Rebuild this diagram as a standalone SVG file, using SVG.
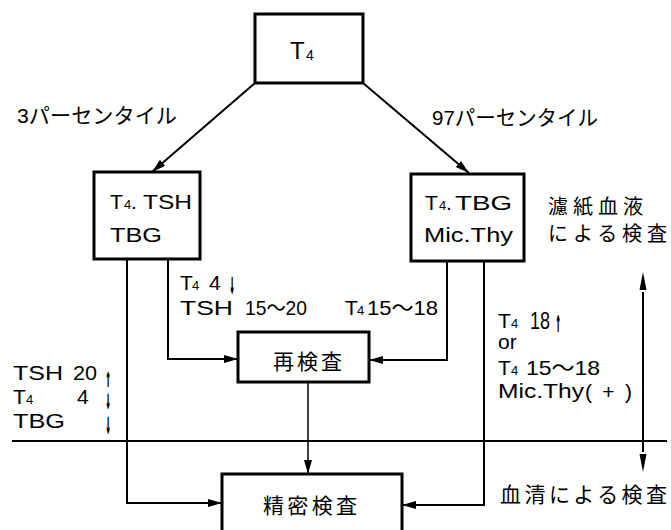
<svg xmlns="http://www.w3.org/2000/svg" width="671" height="530" viewBox="0 0 671 530">
<style>
  .box { fill: #fff; stroke: #000; stroke-width: 3; }
  .con { fill: none; stroke: #000; stroke-width: 2; }
  .thin { fill: none; stroke: #000; stroke-width: 1.5; }
  .lat { font-family: "Liberation Sans", "Noto Sans CJK JP", sans-serif; font-size: 21px; fill: #000; }
  .sub { font-family: "Liberation Sans", sans-serif; font-size: 13px; fill: #000; }
  .jp { font-family: "Noto Sans CJK JP", "Noto Sans CJK SC", sans-serif; font-size: 21px; fill: #000; }
  .arw { font-family: "Liberation Sans", sans-serif; font-size: 28px; fill: #000; stroke: #000; stroke-width: 2.5; text-anchor: middle; }
</style>
<defs>
  <marker id="ah" markerUnits="userSpaceOnUse" markerWidth="16" markerHeight="10" refX="14" refY="4" orient="auto">
    <path d="M0,0 L14,4 L0,8 z" fill="#000"/>
  </marker>
</defs>

<g id="connectors">
  <line class="con" x1="255" y1="83" x2="152" y2="172" marker-end="url(#ah)"/>
  <line class="con" x1="363" y1="83" x2="469" y2="173" marker-end="url(#ah)"/>
  <polyline class="con" points="127,259 127,503 222,503" marker-end="url(#ah)"/>
  <polyline class="con" points="168,259 168,359 238,359" marker-end="url(#ah)"/>
  <polyline class="con" points="447,261 447,360 369,360" marker-end="url(#ah)"/>
  <polyline class="con" points="484,261 484,505 402,505" marker-end="url(#ah)"/>
  <line class="thin" x1="308" y1="382" x2="308" y2="474" marker-end="url(#ah)"/>
  <line class="con" x1="12" y1="441" x2="667" y2="441"/>
  <line class="con" x1="643" y1="292" x2="643" y2="452"/>
  <path d="M643,272 L639.5,290 L646.5,290 z" fill="#000"/>
  <path d="M643,472 L639.5,454 L646.5,454 z" fill="#000"/>
</g>

<g id="n-t4">
  <rect class="box" x="255" y="14" width="108" height="69"/>
  <text class="lat" x="290" y="59" style="font-size:24px">T</text>
  <text class="sub" x="306" y="60" style="font-size:14px">4</text>
</g>

<g id="label-3p">
  <text class="jp" x="17" y="123" textLength="160" lengthAdjust="spacingAndGlyphs"><tspan style="font-family:'Liberation Sans',sans-serif">3</tspan>パーセンタイル</text>
</g>
<g id="label-97p">
  <text class="jp" x="432" y="125" textLength="166" lengthAdjust="spacingAndGlyphs"><tspan style="font-family:'Liberation Sans',sans-serif">97</tspan>パーセンタイル</text>
</g>

<g id="n-left">
  <rect class="box" x="94" y="172" width="106" height="87"/>
  <text class="lat" x="110" y="209">T</text>
  <text class="sub" x="124" y="209">4</text>
  <text class="lat" x="131" y="209">.</text>
  <text class="lat" x="143" y="209" textLength="49" lengthAdjust="spacingAndGlyphs">TSH</text>
  <text class="lat" x="110" y="242" textLength="52" lengthAdjust="spacingAndGlyphs">TBG</text>
</g>

<g id="n-right">
  <rect class="box" x="411" y="174" width="113" height="87"/>
  <text class="lat" x="425" y="210">T</text>
  <text class="sub" x="439" y="210">4</text>
  <text class="lat" x="446" y="210">.</text>
  <text class="lat" x="455" y="210" textLength="57" lengthAdjust="spacingAndGlyphs">TBG</text>
  <text class="lat" x="424" y="242" textLength="89" lengthAdjust="spacingAndGlyphs">Mic.Thy</text>
</g>

<g id="label-filter">
  <text class="jp" x="548" y="214" style="font-size:20px" textLength="95" lengthAdjust="spacing">濾紙血液</text>
  <text class="jp" x="548" y="241" style="font-size:20px" textLength="119" lengthAdjust="spacing">による検査</text>
</g>

<g id="label-left-mid">
  <text class="lat" x="180" y="290">T</text>
  <text class="sub" x="192" y="290">4</text>
  <text class="lat" x="209" y="290">4</text>
  <text class="arw" transform="translate(232,292) scale(0.3,0.9)">↓</text>
  <text class="lat" x="180" y="315" textLength="53" lengthAdjust="spacingAndGlyphs">TSH</text>
  <text class="lat" x="245" y="315" textLength="62" lengthAdjust="spacingAndGlyphs">15〜20</text>
</g>

<g id="label-right-mid">
  <text class="lat" x="345" y="315">T</text>
  <text class="sub" x="357" y="315">4</text>
  <text class="lat" x="367" y="315" textLength="71" lengthAdjust="spacingAndGlyphs">15〜18</text>
</g>

<g id="n-recheck">
  <rect class="box" x="238" y="332" width="131" height="50"/>
  <text class="jp" x="273" y="369" textLength="69" lengthAdjust="spacing">再検査</text>
</g>

<g id="label-left-bottom">
  <text class="lat" x="13" y="380" textLength="50" lengthAdjust="spacingAndGlyphs">TSH</text>
  <text class="lat" x="73" y="380" textLength="24" lengthAdjust="spacingAndGlyphs">20</text>
  <text class="arw" transform="translate(108,385) scale(0.3,0.8)">↑</text>
  <text class="lat" x="13" y="404">T</text>
  <text class="sub" x="26" y="404">4</text>
  <text class="lat" x="77" y="404">4</text>
  <text class="arw" transform="translate(108,407) scale(0.3,0.8)">↓</text>
  <text class="lat" x="13" y="428" textLength="52" lengthAdjust="spacingAndGlyphs">TBG</text>
  <text class="arw" transform="translate(108,432) scale(0.3,0.9)">↓</text>
</g>

<g id="label-right-block">
  <text class="lat" x="498" y="328">T</text>
  <text class="sub" x="511" y="328">4</text>
  <text class="lat" x="530" y="329" textLength="20" lengthAdjust="spacingAndGlyphs" style="font-size:23px">18</text>
  <text class="arw" transform="translate(558,330) scale(0.3,0.9)">↑</text>
  <text class="lat" x="498" y="349">or</text>
  <text class="lat" x="498" y="375">T</text>
  <text class="sub" x="511" y="375">4</text>
  <text class="lat" x="526" y="375" textLength="74" lengthAdjust="spacingAndGlyphs">15〜18</text>
  <text class="lat" x="498" y="398" textLength="86" lengthAdjust="spacingAndGlyphs">Mic.Thy</text>
  <text class="lat" x="585" y="399" textLength="47" lengthAdjust="spacing">(+)</text>
</g>

<g id="n-detail">
  <rect class="box" x="222" y="474" width="180" height="70"/>
  <text class="jp" x="263" y="513" textLength="94" lengthAdjust="spacing">精密検査</text>
</g>

<g id="label-serum">
  <text class="jp" x="500" y="502" textLength="167" lengthAdjust="spacing">血清による検査</text>
</g>
</svg>
